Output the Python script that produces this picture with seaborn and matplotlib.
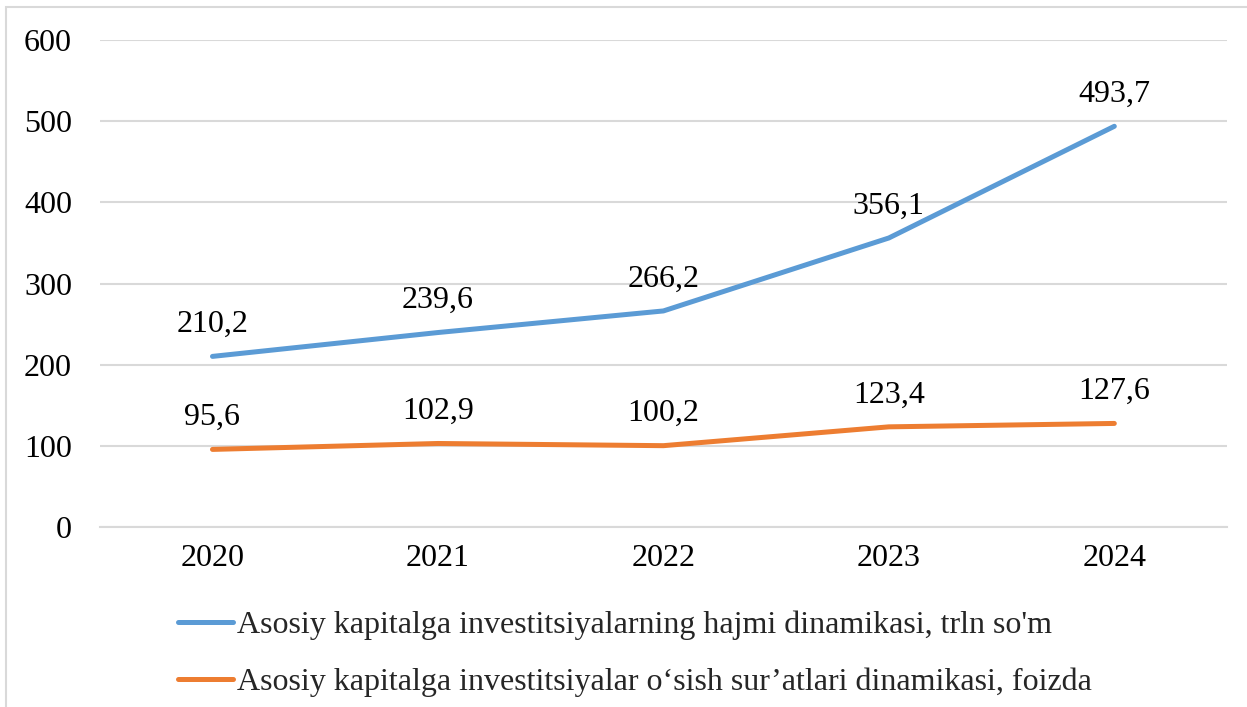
import matplotlib
matplotlib.use("Agg")
import matplotlib.pyplot as plt
from matplotlib.patches import Rectangle
import seaborn as sns
import pandas as pd

years = [2020, 2021, 2022, 2023, 2024]
hajm = [210.2, 239.6, 266.2, 356.1, 493.7]
osish = [95.6, 102.9, 100.2, 123.4, 127.6]
name_hajm = "Asosiy kapitalga investitsiyalarning hajmi dinamikasi, trln so'm"
name_osish = "Asosiy kapitalga investitsiyalar o\u2018sish sur\u2019atlari dinamikasi, foizda"
colors = {name_hajm: "#5B9BD5", name_osish: "#ED7D31"}

df = pd.DataFrame({
    "year": years * 2,
    "value": hajm + osish,
    "series": [name_hajm] * len(years) + [name_osish] * len(years),
})

sns.set_style("white")
plt.rcParams["font.family"] = ["Liberation Serif", "DejaVu Serif"]
fs = 23

fig = plt.figure(figsize=(12.47, 7.07), dpi=100)
ax = fig.add_axes([0.080, 0.2546, 0.904, 0.6888])

sns.lineplot(data=df, x="year", y="value", hue="series", palette=colors,
             linewidth=3.6, ax=ax, legend=False)

# data labels with decimal comma
for s, vals in [(name_hajm, hajm), (name_osish, osish)]:
    for x, v in zip(years, vals):
        ax.annotate(f"{v:.1f}".replace(".", ","), (x, v), xytext=(0, 23),
                    textcoords="offset points", ha="center", va="center",
                    fontsize=fs, color="#000000")

ax.set_xlim(2019.5, 2024.5)
ax.set_ylim(0, 600)
ax.set_yticks(range(0, 601, 100))
ax.set_xticks(years)
ax.set_xticklabels([str(y) for y in years])
ax.tick_params(axis="both", labelsize=fs, length=0, colors="#000000")
ax.tick_params(axis="y", pad=20)
ax.tick_params(axis="x", pad=12)
ax.set_xlabel("")
ax.set_ylabel("")
ax.grid(axis="y", color="#D9D9D9", linewidth=1.5)
ax.set_axisbelow(True)
for sp in ax.spines.values():
    sp.set_visible(False)
ax.spines["bottom"].set_visible(True)
ax.spines["bottom"].set_color("#D9D9D9")
ax.spines["bottom"].set_linewidth(1.5)

# legend below the chart
handles = [plt.Line2D([], [], color=colors[n], linewidth=3.6) for n in [name_hajm, name_osish]]
fig.legend(handles, [name_hajm, name_osish], loc="upper left",
           bbox_to_anchor=(0.143, 0.136), frameon=False, fontsize=fs,
           handlelength=1.7, handletextpad=0.15, labelspacing=0.85,
           borderaxespad=0, borderpad=0)

# chart area border
fig.patches.append(Rectangle((6 / 1247, -0.05), 1.1, 1 - 7 / 707 + 0.05,
                             transform=fig.transFigure, fill=False,
                             edgecolor="#D9D9D9", linewidth=1.5))

fig.savefig("out.png", dpi=100)
